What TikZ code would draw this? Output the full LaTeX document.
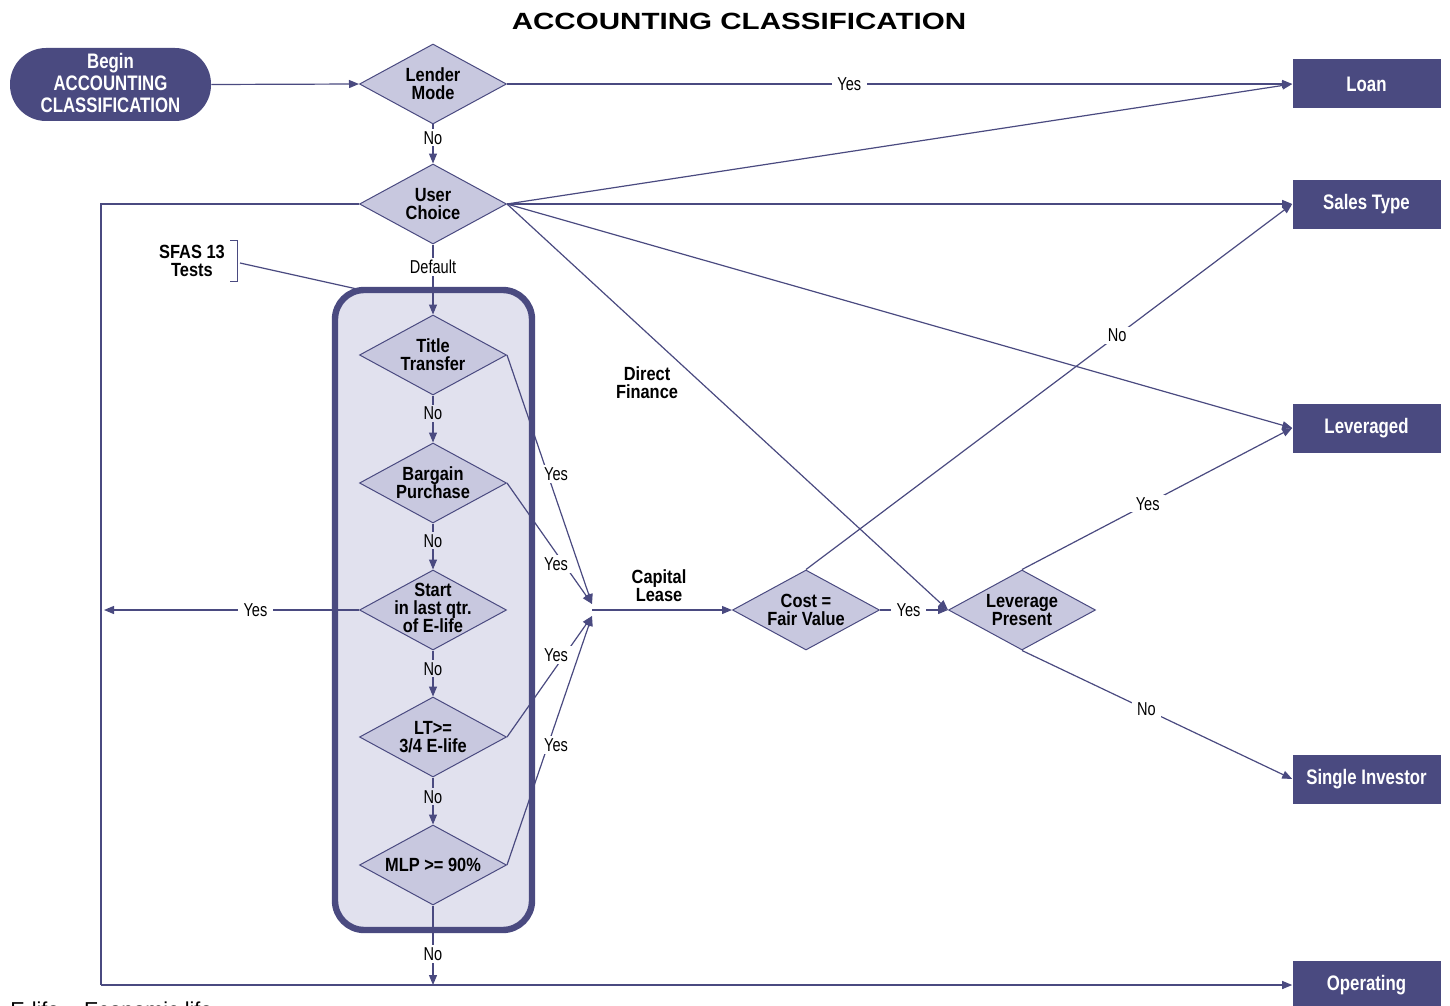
\documentclass[tikz,border=0pt]{standalone}
\usepackage{fontspec}
\setmainfont{Liberation Sans}
\newfontfamily\cbf{Liberation Sans}[FakeStretch=0.86]
\newfontfamily\crg{Liberation Sans}[FakeStretch=0.78]
\newfontfamily\cwh{Liberation Sans}[FakeStretch=0.8]
\newfontfamily\wdf{Liberation Sans}[FakeStretch=1.26]
\usetikzlibrary{shapes.geometric,arrows.meta}
\definecolor{dark}{HTML}{4A4A80}
\definecolor{dfill}{HTML}{C8C8DF}
\definecolor{cfill}{HTML}{E1E1EE}
\begin{document}
\begin{tikzpicture}[x=0.75pt,y=-0.75pt,
  line/.style={draw=dark, line width=0.9pt},
  arr/.style={line, -{Triangle[length=7.5pt,width=6pt]}},
  dia/.style={diamond, draw=dark, line width=0.75pt, fill=dfill, minimum width=110.25pt, minimum height=60pt, inner sep=0pt},
  dtext/.style={font=\cbf\bfseries\fontsize{14.3}{13.5}\selectfont, align=center, inner sep=0pt},
  outbox/.style={rectangle, fill=dark, minimum width=111pt, minimum height=36.75pt, font=\cwh\bfseries\fontsize{15.75}{16}\selectfont, text=white, inner sep=0pt},
  lab/.style={fill=white, font=\crg\fontsize{14}{14}\selectfont, inner xsep=4pt, inner ysep=1.5pt},
  labc/.style={lab, fill=cfill},
]
\useasboundingbox (0,0) rectangle (1450,1006);

% title and notes
\node[font=\wdf\bfseries\fontsize{17.6}{18}\selectfont, anchor=base, inner sep=0pt] (title) at (739,30) {ACCOUNTING CLASSIFICATION};
\node[font=\fontsize{16.2}{17}\selectfont, anchor=base west, inner sep=0pt] (note) at (10,1017.5) {E-life = Economic life};

% container fill
\fill[cfill, rounded corners=22pt] (335,290) rectangle (532,930);

% start node
\node[fill=dark, rounded corners=27pt, minimum width=150.75pt, minimum height=54.75pt, text=white, inner sep=0pt,
      font=\cwh\bfseries\fontsize{15.75}{16.5}\selectfont, align=center] (begin) at (110.5,84.5) {};
\node[text=white, inner sep=0pt, font=\cwh\bfseries\fontsize{15.75}{16.5}\selectfont, align=center] at ([yshift=1.5pt]begin) {Begin\\ACCOUNTING\\CLASSIFICATION};

% diamonds
\node[dia] (lm) at (433,84) {};
\node[dtext] at (lm) {Lender\\Mode};
\node[dia] (uc) at (433,204) {};
\node[dtext] at (uc) {User\\Choice};
\node[dia] (tt) at (433,355) {};
\node[dtext] at (tt) {Title\\Transfer};
\node[dia] (bp) at (433,483) {};
\node[dtext] at (bp) {Bargain\\Purchase};
\node[dia] (sl) at (433,610) {};
\node[dtext] at ([yshift=1.5pt]sl) {Start\\in last qtr.\\of E-life};
\node[dia] (lt) at (433,737) {};
\node[dtext] at (lt) {LT>=\\3/4 E-life};
\node[dia] (mlp) at (433,865) {};
\node[dtext] at (mlp) {MLP >= 90\%};
\node[dia] (cfv) at (806,610) {};
\node[dtext] at (cfv) {Cost =\\Fair Value};
\node[dia] (lp) at (1022,610) {};
\node[dtext] at (lp) {Leverage\\Present};

% outcome boxes
\node[outbox] (loan) at (1366.5,84) {Loan};
\node[outbox] (st) at (1366.5,204) {Sales Type};
\node[outbox] (lev) at (1366.5,428) {Leveraged};
\node[outbox] (si) at (1366.5,779) {Single Investor};
\node[outbox] (op) at (1366.5,985) {Operating};

% coordinates
\coordinate (lc1) at (101,204);
\coordinate (lc2) at (101,985);
\coordinate (mj) at (433,985);
\coordinate (lyes) at (104,610);
\coordinate (clA) at (592,604);
\coordinate (clB) at (592,616);
\coordinate (clC) at (592,610);
\coordinate (brk) at (240,263);
\coordinate (cont) at (357,289);

% connectors
\draw[arr] (begin.east) -- (lm.west);
\draw[arr] (lm.east) -- node[lab, pos=0.436] {Yes} (loan.west);
\draw[arr] (lm.south) -- node[lab, pos=0.34] {No} (uc.north);
\draw[arr] (uc.east) -- (loan.west);
\draw[arr] (uc.east) -- (st.west);
\draw[arr] (uc.east) -- (lev.west);
\draw[arr] (uc.east) -- (lp.west);
\draw[line] (uc.west) -- (lc1) -- (lc2);
\draw[arr] (lc2) -- (op.west);
\draw[arr] (uc.south) -- node[lab, pos=0.32] {Default} (tt.north);
\draw[arr] (tt.south) -- node[labc, pos=0.38] {No} (bp.north);
\draw[arr] (bp.south) -- node[labc, pos=0.38] {No} (sl.north);
\draw[arr] (sl.south) -- node[labc, pos=0.4] {No} (lt.north);
\draw[arr] (lt.south) -- node[labc, pos=0.41] {No} (mlp.north);
\draw[arr] (mlp.south) -- node[lab, pos=0.61] {No} (mj);
\draw[arr] (sl.west) -- node[lab, pos=0.406] {Yes} (lyes);
\draw[arr] (tt.east) -- (clA);
\draw[arr] (bp.east) -- (clA);
\draw[arr] (lt.east) -- (clB);
\draw[arr] (mlp.east) -- (clB);
\draw[arr] (clC) -- (cfv.west);
\draw[arr] (cfv.east) -- node[lab, pos=0.42] {Yes} (lp.west);
\draw[arr] (cfv.north) -- node[lab, pos=0.64] {No} (st.west);
\draw[arr] (lp.north) -- node[lab, pos=0.465] {Yes} (lev.west);
\draw[arr] (lp.south) -- node[lab, pos=0.46] {No} (si.west);

% container border
\draw[dark, line width=4.8pt, rounded corners=22pt] (335,290) rectangle (532,930);

% SFAS bracket
\node[dtext] (sfas) at (192,261) {SFAS 13\\Tests};
\draw[dark, line width=0.75pt] (230,240) -- (237,240) -- (237,281) -- (230,281);
\draw[line] (brk) -- (cont);

% free labels
\node[lab] at (556,474) {Yes};
\node[lab] at (556,564) {Yes};
\node[lab] at (556,655) {Yes};
\node[lab] at (556,745) {Yes};
\node[dtext] (df) at (647,383) {Direct\\Finance};
\node[dtext] (cl) at (659,586) {Capital\\Lease};
\end{tikzpicture}
\end{document}
